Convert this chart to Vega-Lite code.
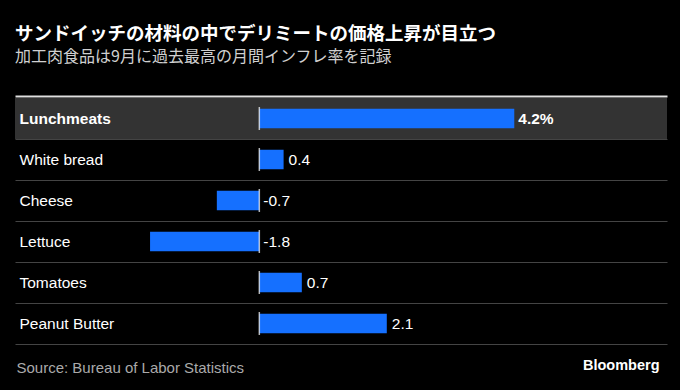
{
  "$schema": "https://vega.github.io/schema/vega-lite/v6.json",
  "width": 652,
  "height": 246,
  "autosize": {"type": "none"},
  "padding": {"left": 15, "top": 98, "right": 13, "bottom": 46},
  "background": "#000000",
  "config": {
    "view": {"stroke": null},
    "font": "Liberation Sans"
  },
  "title": {
    "text": "サンドイッチの材料の中でデリミートの価格上昇が目立つ",
    "subtitle": "加工肉食品は9月に過去最高の月間インフレ率を記録",
    "anchor": "start",
    "frame": "group",
    "font": "Noto Sans CJK JP",
    "fontSize": 18.5,
    "fontWeight": "bold",
    "color": "#ffffff",
    "subtitleFont": "Noto Sans CJK JP",
    "subtitleFontSize": 16,
    "subtitleColor": "#d0d0d0",
    "subtitlePadding": 6,
    "offset": 31
  },
  "data": {
    "values": [
      {"item": "Lunchmeats", "value": 4.2, "label": "4.2%"},
      {"item": "White bread", "value": 0.4, "label": "0.4"},
      {"item": "Cheese", "value": -0.7, "label": "-0.7"},
      {"item": "Lettuce", "value": -1.8, "label": "-1.8"},
      {"item": "Tomatoes", "value": 0.7, "label": "0.7"},
      {"item": "Peanut Butter", "value": 2.1, "label": "2.1"}
    ]
  },
  "encoding": {
    "y": {
      "field": "item",
      "type": "nominal",
      "sort": null,
      "scale": {"paddingInner": 0, "paddingOuter": 0},
      "axis": {
        "title": "Source: Bureau of Labor Statistics",
        "titleAngle": 0,
        "titleAlign": "left",
        "titleBaseline": "alphabetic",
        "titleX": 1,
        "titleY": 274,
        "titleFont": "Liberation Sans",
        "titleFontSize": 15,
        "titleFontWeight": "normal",
        "titleColor": "#aaaaaa",
        "domain": false,
        "ticks": false,
        "tickSize": 0,
        "labelPadding": -4,
        "labelAlign": "left",
        "labelFontSize": 15.5,
        "labelColor": "#ffffff",
        "labelFontWeight": {"condition": {"test": "datum.value === 'Lunchmeats'", "value": "bold"}, "value": "normal"},
        "grid": true,
        "bandPosition": 1,
        "gridColor": "#444444",
        "gridWidth": 1
      }
    }
  },
  "layer": [
    {
      "transform": [{"filter": "datum.item === 'Lunchmeats'"}],
      "mark": {"type": "rect", "color": "#333333"}
    },
    {
      "mark": {"type": "bar", "color": "#1570ff", "height": {"band": 0.475}},
      "encoding": {
        "x": {
          "field": "value",
          "type": "quantitative",
          "scale": {"domain": [-4.025, 6.716], "nice": false, "zero": false},
          "axis": {
            "orient": "top",
            "offset": 2,
            "domain": true,
            "domainColor": "#e0e0e0",
            "domainWidth": 2,
            "ticks": false,
            "labels": false,
            "grid": false,
            "title": null
          }
        }
      }
    },
    {
      "mark": {"type": "tick", "color": "#ffffff", "size": 23, "thickness": 1.5, "orient": "vertical"},
      "encoding": {
        "x": {
          "datum": 0,
          "type": "quantitative",
          "axis": {
            "orient": "bottom",
            "domain": false,
            "ticks": false,
            "labels": false,
            "grid": false,
            "title": "Bloomberg",
            "titleAlign": "right",
            "titleAnchor": "end",
            "titleBaseline": "alphabetic",
            "titleX": 644,
            "titleY": 25,
            "titleFont": "Liberation Sans",
            "titleFontSize": 14.5,
            "titleFontWeight": "bold",
            "titleColor": "#ffffff"
          }
        }
      }
    },
    {
      "transform": [{"filter": "datum.value >= 0 && datum.item !== 'Lunchmeats'"}],
      "mark": {"type": "text", "align": "left", "baseline": "middle", "dx": 5, "fontSize": 15.5, "color": "#ffffff"},
      "encoding": {
        "x": {"field": "value", "type": "quantitative", "axis": null},
        "text": {"field": "label"}
      }
    },
    {
      "transform": [{"filter": "datum.item === 'Lunchmeats'"}],
      "mark": {"type": "text", "align": "left", "baseline": "middle", "dx": 4, "fontSize": 15.5, "fontWeight": "bold", "color": "#ffffff"},
      "encoding": {
        "x": {"field": "value", "type": "quantitative", "axis": null},
        "text": {"field": "label"}
      }
    },
    {
      "transform": [{"filter": "datum.value < 0"}],
      "mark": {"type": "text", "align": "left", "baseline": "middle", "dx": 4, "fontSize": 15.5, "color": "#ffffff"},
      "encoding": {
        "x": {"datum": 0, "type": "quantitative", "axis": null},
        "text": {"field": "label"}
      }
    }
  ],
  "resolve": {"axis": {"x": "independent"}}
}
